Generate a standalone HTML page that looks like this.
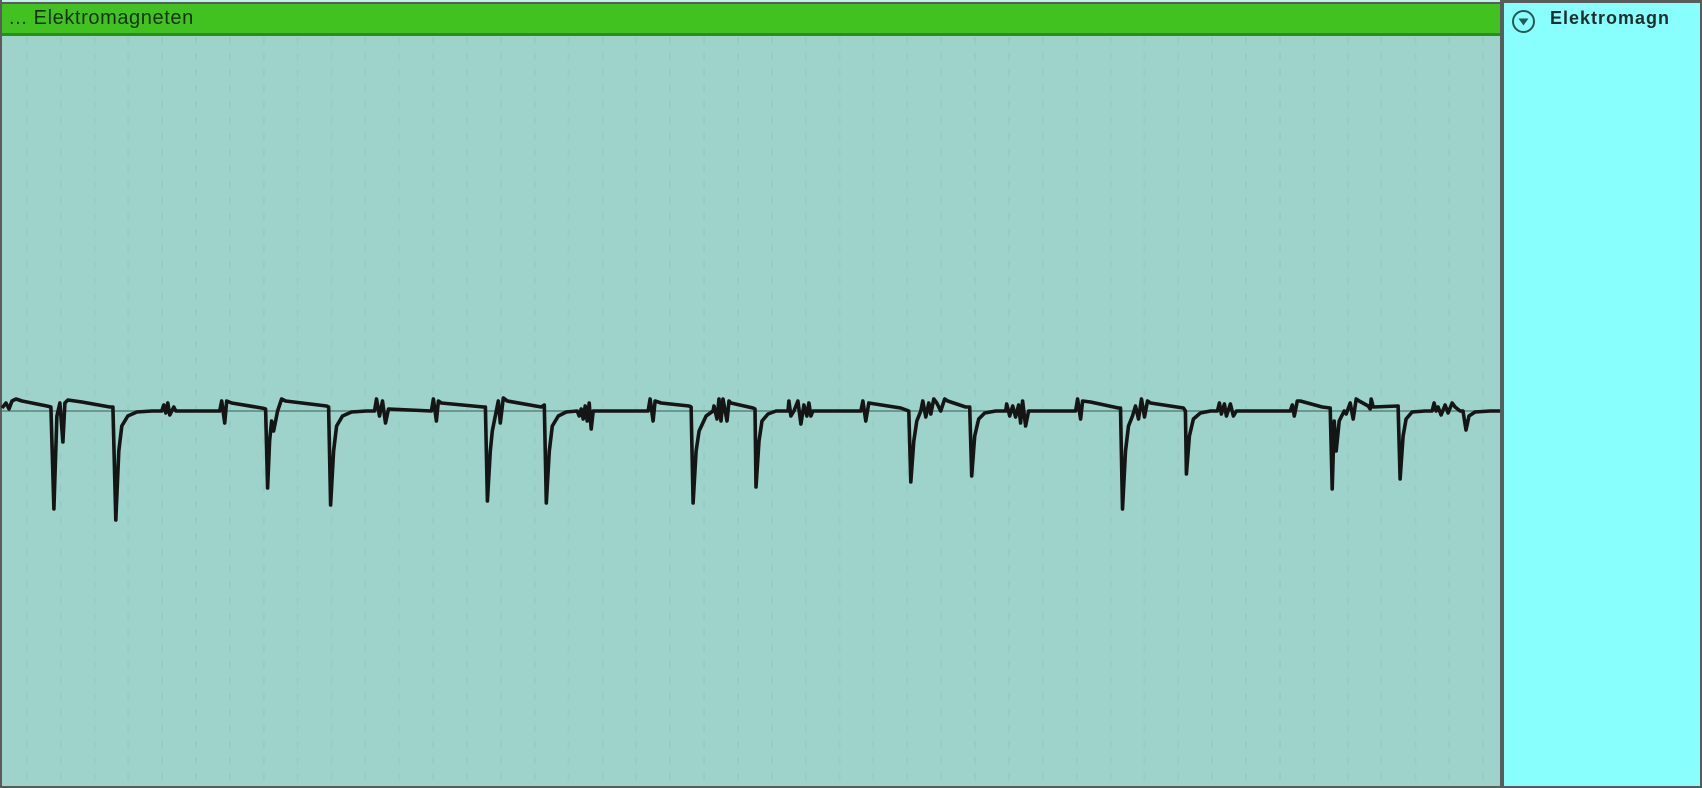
<!DOCTYPE html>
<html><head><meta charset="utf-8"><style>
html,body{margin:0;padding:0;width:1702px;height:788px;overflow:hidden;background:#5b5b5b;font-family:"Liberation Sans",sans-serif;}
#plot{position:absolute;left:2px;top:36px;width:1498px;height:750px;background:#9dd3cb;}
#hdr{position:absolute;left:2px;top:4px;width:1498px;height:29px;background:#42c221;border-bottom:3px solid #2a8f18;}
#hdr span{position:absolute;left:7px;top:3px;font-size:20px;color:#15300c;letter-spacing:0.6px;}
#topline{position:absolute;left:2px;top:0;width:1498px;height:2px;background:#bfeff0;}
#side{position:absolute;left:1504px;top:3px;width:196px;height:783px;background:#88fffd;}
#side .t{position:absolute;left:46px;top:5px;font-size:18px;font-weight:bold;color:#1e2e2e;letter-spacing:1px;}
svg{position:absolute;left:0;top:0;}
</style></head><body>
<div id="topline"></div>
<div id="plot"></div>
<div id="hdr"><span>... Elektromagneten</span></div>
<div id="side">
<svg width="30" height="30" style="left:7px;top:3px"><circle cx="12.5" cy="15.5" r="10.5" fill="none" stroke="#2a5656" stroke-width="2"/><polygon points="7.5,12.5 17.5,12.5 12.5,19.5" fill="#2a5656"/></svg>
<div class="t">Elektromagn</div>
</div>
<svg id="chart" width="1702" height="788" style="pointer-events:none"></svg>
<script>
const times=[0,4,7,10,14,20,45,49,52,55,58,61,63,66,80,108,111,114,117,120,126,135,150,160,162,164,166,168,170,172,174,218,220,223,225,230,260,264,266,268,270,272,276,280,284,325,327,329,332,335,341,350,365,373,375,378,381,384,387,430,432,435,437,440,482,484,486,489,491,494,497,499,502,506,540,543,545,548,551,557,565,576,578,580,582,584,586,588,590,592,647,649,652,654,660,688,690,692,695,698,705,712,713,716,718,720,722,726,728,730,752,754,755,758,761,767,775,787,788,790,793,797,800,803,806,808,810,812,860,862,865,868,900,908,910,913,916,920,922,925,928,930,933,936,940,944,947,965,969,971,974,978,984,995,1005,1006,1009,1012,1015,1018,1020,1022,1025,1028,1075,1077,1080,1082,1090,1118,1120,1122,1125,1128,1132,1135,1138,1141,1144,1147,1150,1183,1185,1186,1189,1193,1200,1210,1217,1219,1221,1224,1226,1230,1233,1236,1290,1292,1294,1297,1300,1322,1330,1332,1334,1336,1339,1344,1346,1350,1353,1356,1359,1368,1370,1371,1373,1398,1400,1403,1406,1412,1425,1432,1434,1436,1438,1441,1445,1448,1452,1455,1460,1463,1466,1469,1475,1490,1500];
const values=[3,8,2,10,12,10,5,4,-98,-5,8,-31,8,11,9,4,4,-109,-40,-15,-5,-1,0,0,6,-2,8,-4,0,4,0,0,10,-12,10,8,3,2,-77,-30,-10,-20,0,12,10,5,4,-94,-40,-15,-5,-1,0,0,12,-5,10,-12,2,0,12,-10,10,8,4,4,-90,-40,-20,-5,10,-12,13,10,4,6,-92,-40,-15,-5,-1,0,-5,2,-8,5,-10,8,-18,0,0,12,-10,10,8,5,4,-92,-40,-20,-5,0,5,-8,12,-10,12,-10,10,8,3,2,-76,-30,-10,-3,0,0,10,-5,0,10,-13,6,-5,8,-5,0,0,10,-10,8,3,0,-71,-30,-10,0,10,-6,8,-3,12,8,0,12,10,4,4,-65,-25,-8,-2,0,0,7,-5,5,-6,6,-12,10,-15,0,0,12,-8,10,9,3,3,-98,-40,-15,-5,5,-8,12,-6,10,8,3,0,-63,-25,-8,-2,0,0,8,-3,7,-5,7,-5,0,0,6,-5,10,10,4,3,-78,-10,-40,-10,0,-3,8,-8,12,10,5,2,12,4,5,-68,-25,-8,-1,0,0,8,0,4,-4,6,-2,8,4,0,0,-19,-5,-1,0,0];
const xDomain=[0,1500], xRange=[2,1500];
const yDomain=[-375,375], yRange=[786,36];
function xs(t){return xRange[0]+(t-xDomain[0])/(xDomain[1]-xDomain[0])*(xRange[1]-xRange[0]);}
function ys(v){return yRange[0]+(v-yDomain[0])/(yDomain[1]-yDomain[0])*(yRange[1]-yRange[0]);}
const NS='http://www.w3.org/2000/svg';
const svg=document.getElementById('chart');
const grid=document.createElementNS(NS,'g');


for(let gx=26.7;gx<1500;gx+=33.87){
 const l=document.createElementNS(NS,'line');
 
 
 l.setAttribute('x1',gx);l.setAttribute('x2',gx);l.setAttribute('y1',37);l.setAttribute('y2',786);
 l.setAttribute('stroke','#95ccc4');l.setAttribute('stroke-width','2');l.setAttribute('stroke-dasharray','7 9');
 grid.appendChild(l);
}
svg.appendChild(grid);
const zl=document.createElementNS(NS,'line');


zl.setAttribute('x1',2);zl.setAttribute('x2',1500);zl.setAttribute('y1',ys(0));zl.setAttribute('y2',ys(0));
zl.setAttribute('stroke','#6a9892');zl.setAttribute('stroke-width','2');
svg.appendChild(zl);
let d='';
for(let i=0;i<times.length;i++){d+=(i?'L':'M')+xs(times[i]).toFixed(1)+' '+ys(values[i]).toFixed(1);}
const p=document.createElementNS(NS,'path');


p.setAttribute('d',d);p.setAttribute('fill','none');p.setAttribute('stroke','#151515');
p.setAttribute('stroke-width','3.6');p.setAttribute('stroke-linejoin','round');
svg.appendChild(p);
</script>
</body></html>
